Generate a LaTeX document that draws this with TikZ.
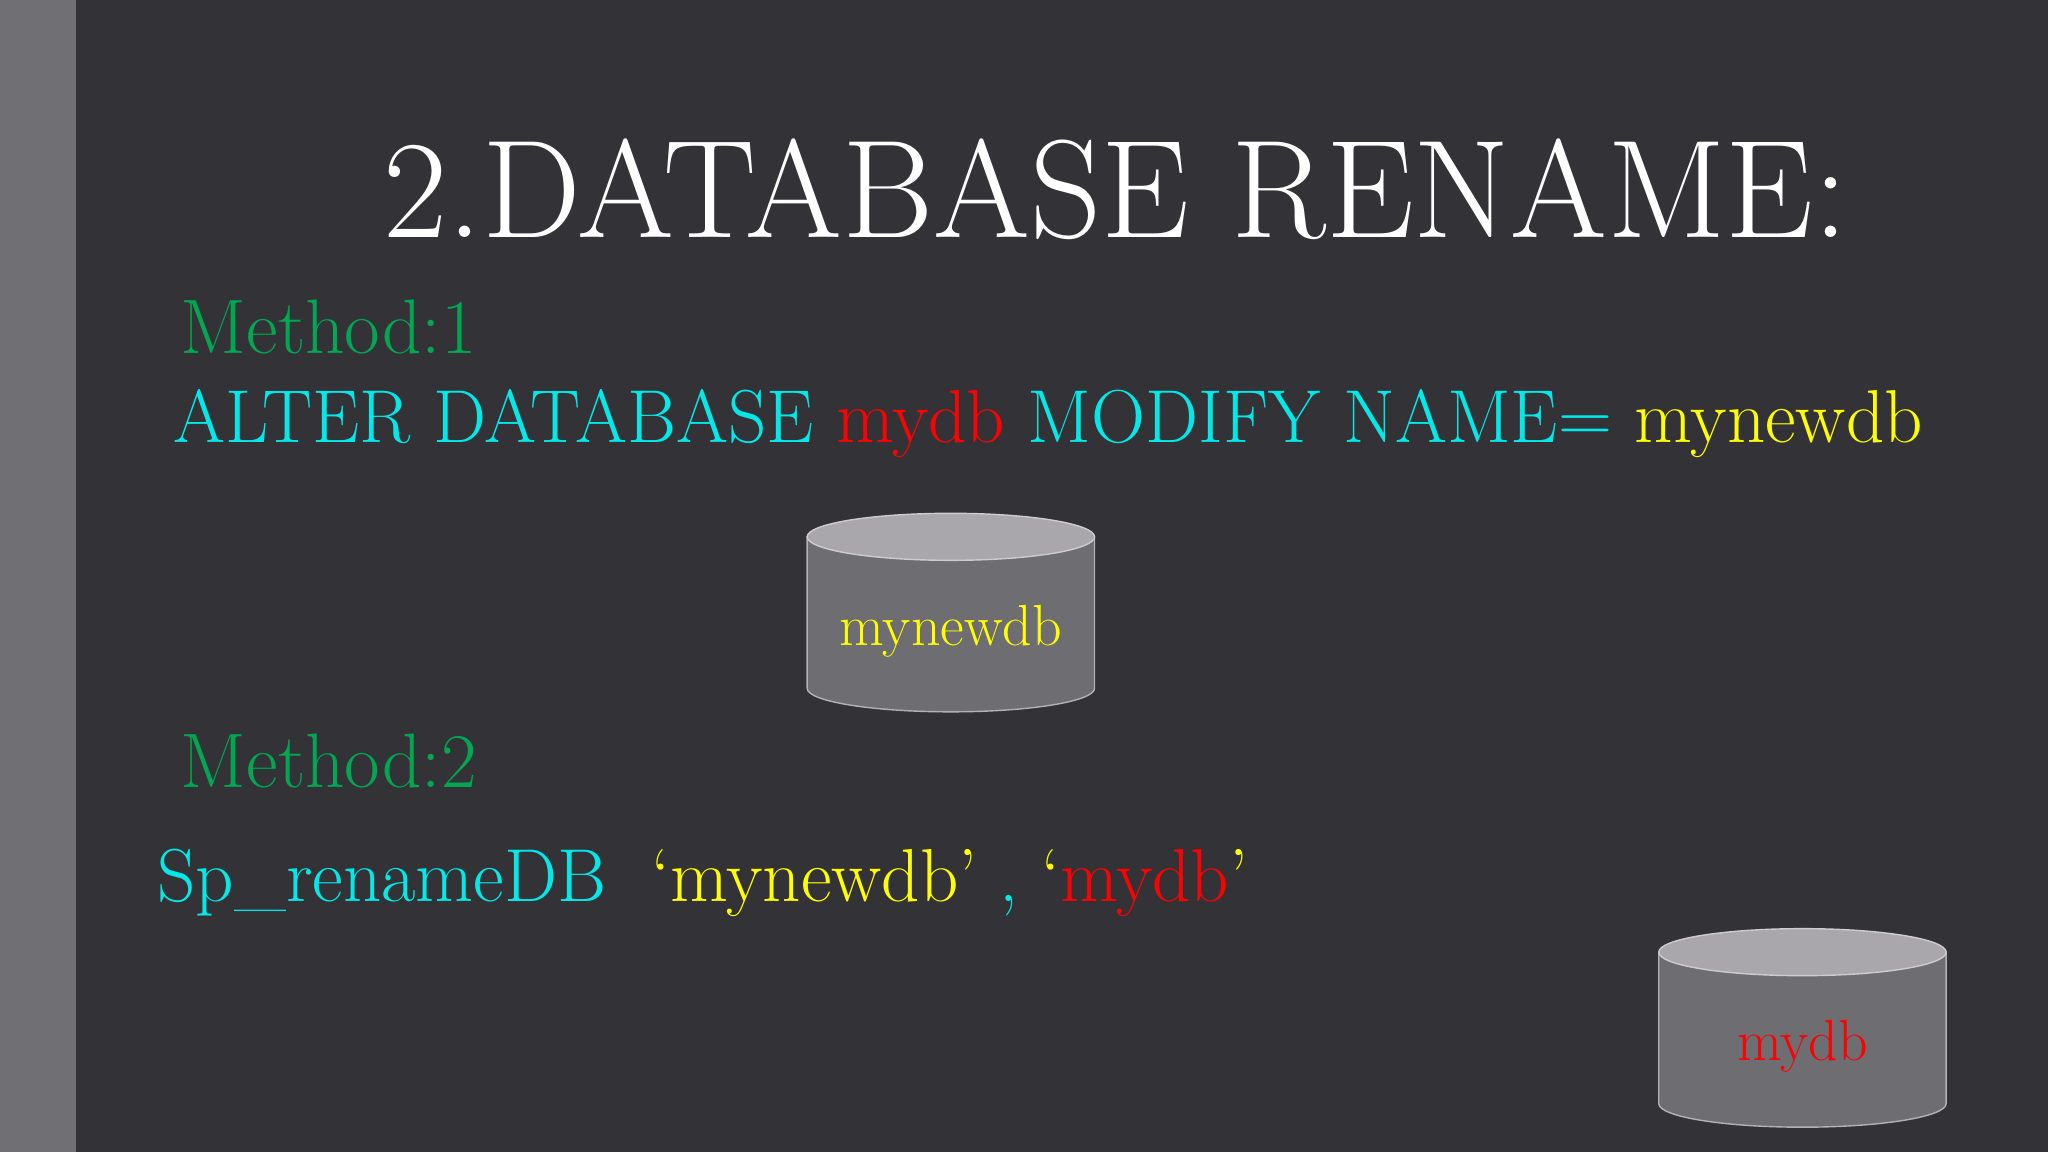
\documentclass[tikz,border=0pt]{standalone}
\usetikzlibrary{positioning}
\definecolor{bgdark}{HTML}{333236}
\definecolor{strip}{HTML}{706F73}
\definecolor{dbside}{HTML}{6E6D71}
\definecolor{dbtop}{HTML}{A9A7AB}
\definecolor{mgreen}{HTML}{00A651}
\definecolor{mcyan}{HTML}{00E8E8}
\definecolor{mred}{HTML}{FF0000}
\definecolor{myellow}{HTML}{FFFF00}
\tikzset{
  big text/.style={anchor=base west,inner sep=0pt,font=\fontsize{39.7}{44}\selectfont,text=white},
  line text/.style={anchor=base west,inner sep=0pt,font=\fontsize{21.35}{24}\selectfont},
  db text/.style={inner sep=0pt,font=\fontsize{16.5}{20}\selectfont}
}
\newcommand{\dbdrum}[4]{% x, ytop, ybottom, name
  \fill[dbside,draw=gray!60] (#1-110,#2) -- (#1-110,#3) arc[start angle=180,end angle=360,x radius=110,y radius=-18] -- (#1+110,#2) -- cycle;
  \fill[dbtop,draw=gray!40] (#1,#2) ellipse[x radius=110,y radius=18];
  \coordinate (#4) at (#1,{(#2+#3)/2+14});
}
\begin{document}
\begin{tikzpicture}[x=0.013061cm,y=-0.013061cm]
\fill[bgdark] (0,0) rectangle (1568,882);
\fill[strip] (0,0) rectangle (58,882);
\node[big text] (title) at (293,182) {2.DATABASE RENAME:};
\node[line text,text=mgreen,font=\fontsize{22}{24}\selectfont] (m1) at (138,271) {Method:1};
\node[line text,text=mcyan] (alter) at (132,339) {ALTER DATABASE \textcolor{mred}{mydb} MODIFY NAME= \textcolor{myellow}{mynewdb}};
\dbdrum{728}{411}{527}{db1}
\node[db text,text=myellow] (newdb) at (db1) {mynewdb};
\node[line text,text=mgreen,font=\fontsize{22}{24}\selectfont] (m2) at (138,603) {Method:2};
\node[line text,text=mcyan] (sp) at (120,690) {Sp\_renameDB\ \ \textcolor{myellow}{`mynewdb'} , \textcolor{myellow}{`}\textcolor{mred}{mydb}\textcolor{myellow}{'}};
\dbdrum{1380}{729}{845}{db2}
\node[db text,text=mred] (olddb) at (db2) {mydb};
\end{tikzpicture}
\end{document}
